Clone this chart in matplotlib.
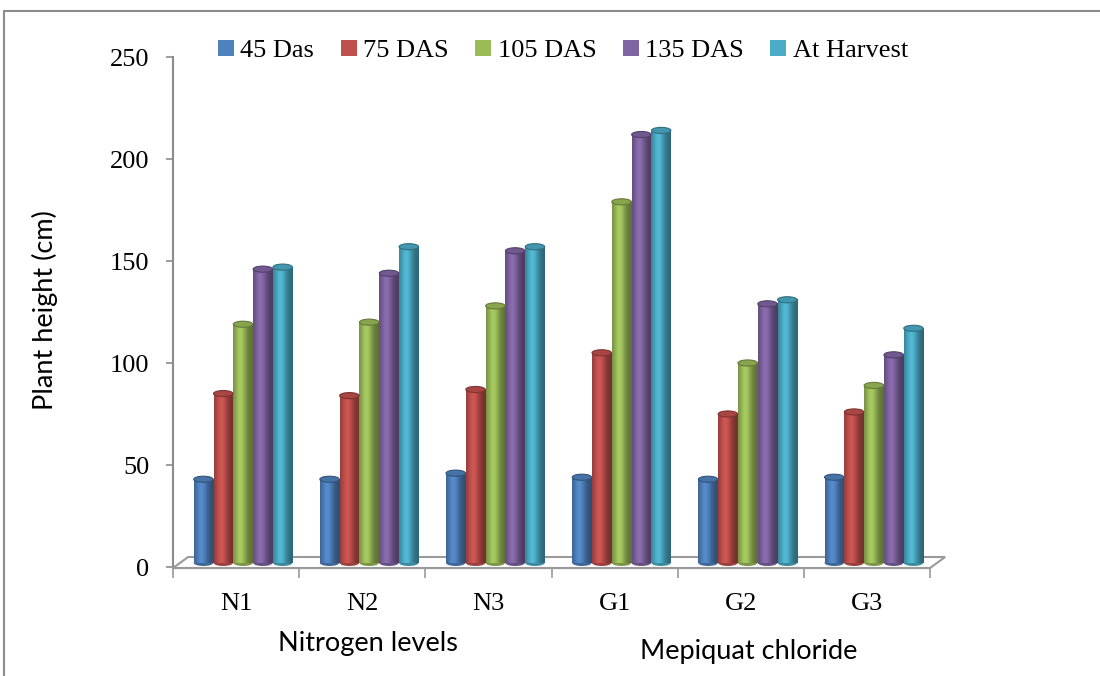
import numpy as np
import matplotlib
matplotlib.use("Agg")
import matplotlib.pyplot as plt
from matplotlib.patches import Ellipse, Polygon, Rectangle, Patch
from matplotlib.colors import to_rgb

categories = ["N1", "N2", "N3", "G1", "G2", "G3"]
series = ["45 Das", "75 DAS", "105 DAS", "135 DAS", "At Harvest"]
das45 = [41, 41, 44, 42, 41, 42]
das75 = [83, 82, 85, 103, 73, 74]
das105 = [117, 118, 126, 177, 98, 87]
das135 = [144, 142, 153, 210, 127, 102]
harvest = [145, 155, 155, 212, 129, 115]
values = [das45, das75, das105, das135, harvest]
colors = ["#4F81BD", "#C0504D", "#9BBB59", "#8064A2", "#4BACC6"]

serif = "Liberation Serif"
sans = "Lato"

fig = plt.figure(figsize=(11, 6.76), dpi=100)
W, H = 1100, 676
ax = fig.add_axes([173 / W, (H - 567) / H, (930 - 173) / W, 510 / H])

# cylinder shading profile across a bar
prof_x = np.linspace(0, 1, 64)
shade = 0.70 + 0.42 * np.exp(-((prof_x - 0.38) / 0.30) ** 2) - 0.10 * prof_x

base = 2.0
bw = 0.157
shift = 0.055
cap_h = 3.0
for j, (vals, c) in enumerate(zip(values, colors)):
    rgb = np.array(to_rgb(c))
    grad = np.clip(rgb[None, None, :] * shade[None, :, None], 0, 1)
    for i, v in enumerate(vals):
        xc = i + shift + (j - 2) * bw
        x0, x1 = xc - bw / 2 * 0.98, xc + bw / 2 * 0.98
        ax.add_patch(Ellipse((xc, base), x1 - x0, cap_h,
                             facecolor=rgb * 0.8, edgecolor="none", zorder=2))
        ax.imshow(grad, extent=[x0, x1, base, base + v], aspect="auto",
                  interpolation="bilinear", zorder=3)
        ax.add_patch(Ellipse((xc, base + v), x1 - x0, cap_h,
                             facecolor=np.clip(rgb * 0.88, 0, 1),
                             edgecolor=np.clip(rgb * 0.65, 0, 1), lw=0.8, zorder=4))

ax.set_xlim(-0.5, len(categories) - 0.5)
ax.set_ylim(0, 250)

# floor
dx = 0.12
floor = Polygon([(-0.5, -0.5), (5.5, -0.5), (5.5 + dx, 4.9), (-0.5 + dx, 4.9)],
                closed=True, facecolor="white", edgecolor="#9a9a9a", lw=1.5,
                zorder=1, clip_on=False)
ax.add_patch(floor)

for s in ["top", "right"]:
    ax.spines[s].set_visible(False)
ax.spines["left"].set_color("#8c8c8c")
ax.spines["left"].set_linewidth(1.5)
ax.spines["left"].set_bounds(-0.5, 250)
ax.spines["bottom"].set_color("#9a9a9a")
ax.spines["bottom"].set_linewidth(1.5)
ax.spines["bottom"].set_position(("data", -0.5))

ax.set_yticks(np.arange(0, 251, 50))
ax.tick_params(axis="y", length=5, width=1.2, color="#8c8c8c", pad=12,
               labelsize=19)
for t in ax.get_yticklabels():
    t.set_fontfamily(serif)

ax.set_xticks(np.arange(-0.5, len(categories), 1.0))
ax.set_xticklabels([])
ax.tick_params(axis="x", which="major", length=7, width=1.2, color="#9a9a9a")
ax.set_xticks(np.arange(len(categories)), minor=True)
ax.set_xticklabels(categories, minor=True)
ax.tick_params(axis="x", which="minor", length=0, pad=18, labelsize=19)
for t in ax.get_xticklabels(minor=True):
    t.set_fontfamily(serif)

fig.text(45 / W, 1 - 310 / H, "Plant height (cm)", rotation=90, ha="center",
         va="center", fontsize=19.5, family=sans)
fig.text(368 / W, 1 - 643 / H, "Nitrogen levels", ha="center", va="center",
         fontsize=19.5, family=sans)
fig.text(749 / W, 1 - 651 / H, "Mepiquat chloride", ha="center", va="center",
         fontsize=19.5, family=sans)

handles = [Patch(facecolor=c, edgecolor="none") for c in colors]
fig.legend(handles, series, loc="center", bbox_to_anchor=(563 / W, 1 - 51 / H),
           ncol=5, frameon=False, handlelength=0.6, handleheight=0.6,
           handletextpad=0.25, columnspacing=1.0,
           prop={"family": serif, "size": 19})

fig.patches.append(Rectangle((4 / W, -0.01), 1.2, 1 - 11 / H + 0.01,
                             transform=fig.transFigure, fill=False,
                             edgecolor="#8c8c8c", lw=1.5))

fig.savefig("out.png", dpi=100)
